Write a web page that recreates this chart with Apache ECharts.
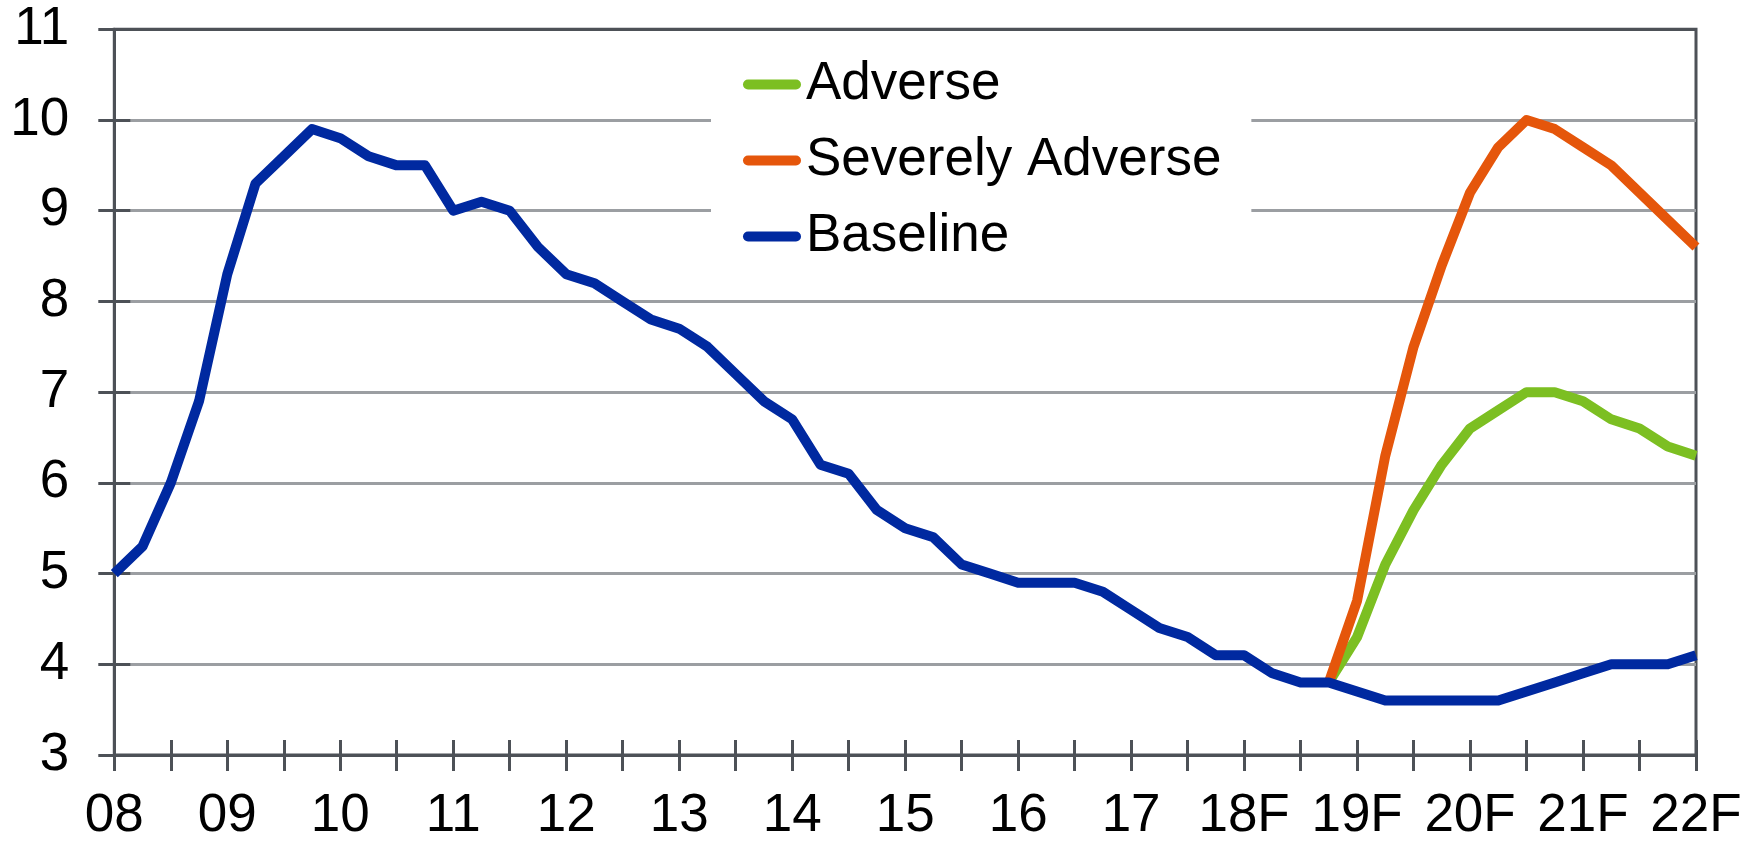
<!DOCTYPE html>
<html>
<head>
<meta charset="utf-8">
<title>Unemployment rate scenarios</title>
<script src="https://cdn.jsdelivr.net/npm/echarts@6/dist/echarts.min.js"></script>
<style>
  html, body { margin: 0; padding: 0; background: #fff; }
  #chart { width: 1759px; height: 843px; }
</style>
</head>
<body>
<div id="chart"></div>
<script>
// year labels on the x axis (one category per quarter, 22F has only Q1)
const yearLabels = ['08', '09', '10', '11', '12', '13', '14', '15', '16', '17', '18F', '19F', '20F', '21F', '22F']
const yTicks = [3, 4, 5, 6, 7, 8, 9, 10, 11]

// baseline, 08Q1 .. 22Q1
const baseline = [
  5.0, 5.3, 6.0, 6.9,
  8.3, 9.3, 9.6, 9.9,
  9.8, 9.6, 9.5, 9.5,
  9.0, 9.1, 9.0, 8.6,
  8.3, 8.2, 8.0, 7.8,
  7.7, 7.5, 7.2, 6.9,
  6.7, 6.2, 6.1, 5.7,
  5.5, 5.4, 5.1, 5.0,
  4.9, 4.9, 4.9, 4.8,
  4.6, 4.4, 4.3, 4.1,
  4.1, 3.9, 3.8, 3.8,
  3.7, 3.6, 3.6, 3.6,
  3.6, 3.6, 3.7, 3.8,
  3.9, 4.0, 4.0, 4.0,
  4.1
]

// scenarios start in 18F Q4
const scenarioStart = '18F-Q4'
const adverse = [3.8, 4.3, 5.1, 5.7, 6.2, 6.6, 6.8, 7.0, 7.0, 6.9, 6.7, 6.6, 6.4, 6.3]
const severelyAdverse = [3.8, 4.7, 6.3, 7.5, 8.4, 9.2, 9.7, 10.0, 9.9, 9.7, 9.5, 9.2, 8.9, 8.6]

const quarters = []
yearLabels.forEach((y, i) => {
  const n = i === yearLabels.length - 1 ? 1 : 4
  for (let q = 1; q <= n; q++) quarters.push(y + '-Q' + q)
})

const startIdx = quarters.indexOf(scenarioStart)
const pairs = (vals) => vals.map((v, i) => [quarters[startIdx + i], v])

const font = "'Liberation Sans', Arial, sans-serif"
const axisDark = '#4d5157'
const gridGrey = '#9b9ea2'

const capsule = 'path://M5,0 H53 A5,5 0 0 1 53,10 H5 A5,5 0 0 1 5,0 Z'

const chart = echarts.init(document.getElementById('chart'), null, { renderer: 'canvas' })

const xBase = {
  type: 'category',
  data: quarters,
  boundaryGap: false,
  position: 'bottom'
}
const yBase = {
  type: 'value',
  min: yTicks[0],
  max: yTicks[yTicks.length - 1],
  interval: 1,
  position: 'left'
}

chart.setOption({
  animation: false,
  backgroundColor: '#fff',
  grid: {
    left: 114.3, right: 63, top: 29.3, bottom: 87,
    show: true, borderColor: axisDark, borderWidth: 3, backgroundColor: 'transparent'
  },
  legend: {
    orient: 'vertical',
    left: 711,
    top: 37,
    padding: [21, 30, 21, 32],
    backgroundColor: '#fff',
    itemWidth: 58,
    itemHeight: 10,
    itemGap: 23,
    textStyle: { fontSize: 53, lineHeight: 52, color: '#000', fontFamily: font },
    data: [
      { name: 'Adverse', icon: capsule },
      { name: 'Severely Adverse', icon: capsule },
      { name: 'Baseline', icon: capsule }
    ]
  },
  xAxis: [
    {
      ...xBase,
      axisLine: { lineStyle: { color: axisDark, width: 3 } },
      axisTick: { show: true, interval: 1, length: 16, lineStyle: { color: axisDark, width: 3 } },
      axisLabel: {
        interval: 3,
        margin: 35,
        fontSize: 53,
        color: '#000',
        fontFamily: font,
        formatter: (v) => v.split('-')[0]
      },
      splitLine: { show: false }
    },
    {
      ...xBase,
      axisLine: { show: false },
      axisTick: { show: true, inside: true, interval: 1, length: 15, lineStyle: { color: axisDark, width: 3 } },
      axisLabel: { show: false },
      splitLine: { show: false }
    }
  ],
  yAxis: [
    {
      ...yBase,
      axisLine: { show: true, lineStyle: { color: axisDark, width: 3 } },
      axisTick: { show: true, length: 16, lineStyle: { color: axisDark, width: 3 } },
      axisLabel: { margin: 45, fontSize: 53, color: '#000', fontFamily: font },
      splitLine: {
        show: true,
        lineStyle: {
          color: [gridGrey, gridGrey, gridGrey, gridGrey, gridGrey, gridGrey, gridGrey, gridGrey, axisDark],
          width: 3
        }
      }
    },
    {
      ...yBase,
      axisLine: { show: false },
      axisTick: { show: true, inside: true, length: 16, lineStyle: { color: axisDark, width: 3 } },
      axisLabel: { show: false },
      splitLine: { show: false }
    }
  ],
  series: [
    {
      name: 'Adverse',
      type: 'line',
      data: pairs(adverse),
      symbol: 'none',
      z: 2,
      itemStyle: { color: '#7cbf22' },
      lineStyle: { color: '#7cbf22', width: 10, join: 'round' }
    },
    {
      name: 'Severely Adverse',
      type: 'line',
      data: pairs(severelyAdverse),
      symbol: 'none',
      z: 3,
      itemStyle: { color: '#e5560b' },
      lineStyle: { color: '#e5560b', width: 10, join: 'round' }
    },
    {
      name: 'Baseline',
      type: 'line',
      data: baseline,
      symbol: 'none',
      z: 4,
      itemStyle: { color: '#0029a0' },
      lineStyle: { color: '#0029a0', width: 10, join: 'round' }
    }
  ]
})
</script>
</body>
</html>
